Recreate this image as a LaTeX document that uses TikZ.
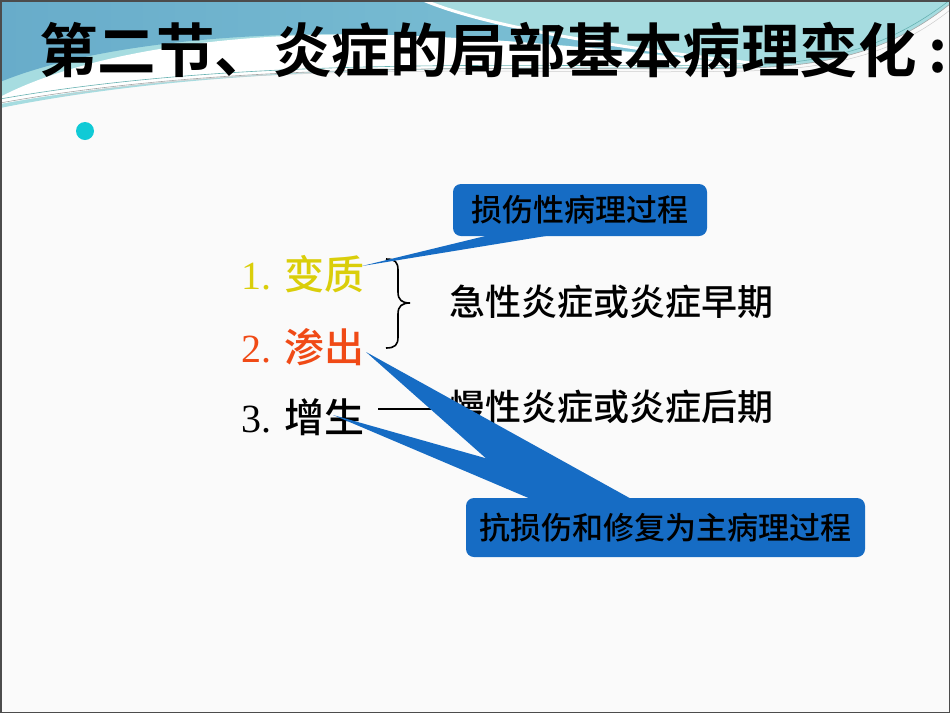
\documentclass[tikz,border=0pt]{standalone}
\usepackage{fontspec}
\setmainfont{Liberation Serif}
\newfontfamily\cjk{Noto Sans CJK SC Medium}
\newfontfamily\cjkbf{Noto Sans CJK SC Bold}
\definecolor{bandblue}{RGB}{104,172,202}
\definecolor{bandbluelight}{RGB}{128,196,214}
\definecolor{bandteal}{RGB}{166,220,224}
\definecolor{bulletcyan}{RGB}{16,202,214}
\definecolor{altyellow}{RGB}{218,206,10}
\definecolor{exured}{RGB}{240,74,22}
\definecolor{calloutblue}{RGB}{22,108,196}

\begin{document}
\begin{tikzpicture}[x=1pt, y=-1pt,
	item/.style={anchor=west, inner sep=0pt, font=\fontsize{40}{48}\selectfont},
	phase/.style={anchor=west, inner sep=0pt, font=\cjk\fontsize{36}{42}\selectfont},
	callout/.style={fill=calloutblue, rounded corners=8pt, inner sep=0pt, font=\cjk\fontsize{31}{36}\selectfont},
	pointer/.style={fill=calloutblue}]
		% the slide background
			\useasboundingbox (0,0) rectangle (950,713);
			\fill[white!98!black] (0,0) rectangle (950,713);
			\fill[bandteal] (0,0) -- (950,0) -- (950,4) .. controls (895,48) and (835,66) .. (745,68) .. controls (560,72) and (260,56) .. (0,108) -- cycle;
			\fill[white] (0,97) .. controls (90,50) and (250,28) .. (420,36) .. controls (560,42) and (680,58) .. (760,66) .. controls (560,71) and (260,57) .. (0,104) -- cycle;
			\shade[left color=bandblue, right color=bandbluelight] (0,0) -- (423,0) .. controls (490,28) and (620,48) .. (760,64) .. controls (680,57) and (560,42) .. (420,36) .. controls (250,28) and (90,45) .. (0,82) -- cycle;
			\draw[white, line width=3pt] (423,0) .. controls (490,28) and (620,48) .. (760,64);
			\draw[gray!70, line width=0.6pt] (0,103) .. controls (260,56) and (560,72) .. (745,68) .. controls (835,66) and (895,48) .. (950,4);
			\draw[teal!60, line width=0.6pt] (0,99) .. controls (260,53) and (560,69) .. (745,65) .. controls (835,63) and (893,44) .. (950,0);
			\draw[gray!40, line width=0.5pt] (60,96) .. controls (260,60) and (560,75) .. (745,71) .. controls (840,69) and (900,50) .. (950,10);
			\draw[black!70, line width=1.5pt] (0.75,0.75) rectangle (949.25,712.25);

		% title and bullet
			\node[anchor=west, inner sep=0pt, font=\cjkbf\fontsize{58.5}{62}\selectfont] (title) at (39,50) {第二节、炎症的局部基本病理变化\hspace{12pt}:};
			\fill[bulletcyan] (85,131) circle (9);

		% the three changes
			\node[item, text=altyellow] (alt) at (241,274) {1. {\cjk 变质}};
			\node[item, text=exured] (exu) at (241,347) {2. {\cjk 渗出}};
			\node[item] (pro) at (241,417) {3. {\cjk 增生}};
			\draw[line width=1.6pt] (386,259) .. controls (395,259) and (398,262) .. (398,270) -- (398,292) .. controls (398,300) and (402,303) .. (410,303) .. controls (402,303) and (398,306) .. (398,314) -- (398,337) .. controls (398,345) and (395,348) .. (386,348);
			\node[phase] (acute) at (449,302) {急性炎症或炎症早期};
			\node[phase] (chronic) at (449,407) {慢性炎症或炎症后期};
			\coordinate (dash) at (378,409);
			\draw[line width=1.4pt] (dash) -- ++(53,0);

		% the callouts
			\node[callout, minimum width=254, minimum height=52] (harm) at (580,210) {损伤性病理过程};
			\node[callout, minimum width=399, minimum height=59] (repair) at (665.5,527.5) {抗损伤和修复为主病理过程};
			\coordinate (altTip) at (362,266);
			\coordinate (exuTip) at (366,352);
			\coordinate (proTip) at (333,415);
			\fill[pointer] (altTip) -- ([xshift=40,yshift=2]harm.south west) -- ([xshift=104,yshift=2]harm.south west) -- cycle;
			\fill[pointer] (proTip) -- ([xshift=67,yshift=-2]repair.north west) -- ([xshift=167,yshift=-2]repair.north west) -- cycle;
			\fill[pointer] (exuTip) -- ([xshift=67,yshift=-2]repair.north west) -- ([xshift=167,yshift=-2]repair.north west) -- cycle;
	\end{tikzpicture}
\end{document}
